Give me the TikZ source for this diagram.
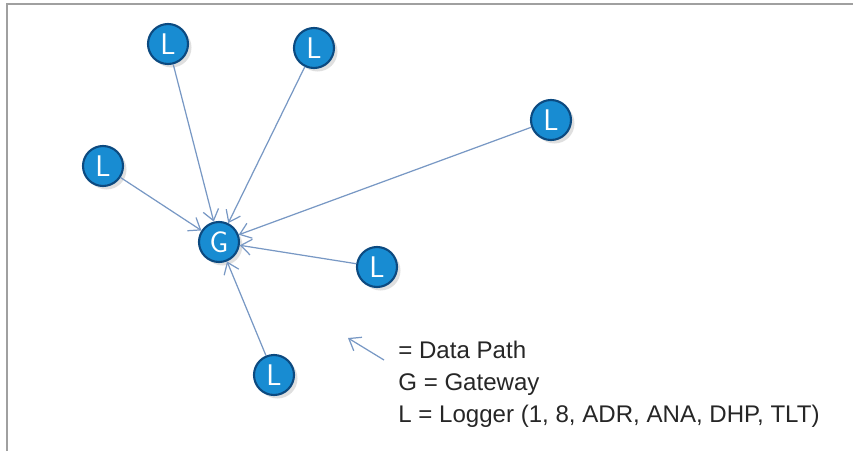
\documentclass[tikz,border=0pt]{standalone}
\usepackage{fontspec}
\setmainfont{Liberation Sans}
\usetikzlibrary{arrows.meta,shadows}
\definecolor{nodeblue}{RGB}{24,140,210}
\definecolor{rimblue}{RGB}{12,74,128}
\definecolor{pathblue}{RGB}{120,152,196}
\definecolor{framegray}{RGB}{160,160,160}
\begin{document}
\begin{tikzpicture}[
	station/.style={
		circle,
		draw=rimblue,
		line width=1.2pt,
		fill=nodeblue,
		text=white,
		font=\sffamily\fontsize{17}{17}\selectfont,
		inner sep=0pt,
		minimum size=0.8cm,
		drop shadow={shadow xshift=0.07cm,shadow yshift=-0.07cm,opacity=0.25}
	},
	datapath/.style={
		draw=pathblue,
		line width=0.7pt,
		-{Straight Barb[length=6pt,width=9pt]}
	},
	legend/.style={
		anchor=base west,
		inner sep=0pt,
		text=black!85,
		font=\fontsize{13.7}{13.7}\selectfont
	},
]
\useasboundingbox (0,0) rectangle (17.06,9.02);

% Frame
\draw[framegray,line width=1pt] (0.14,0) -- (0.14,8.94) -- (17.06,8.94);

% Gateway
\node[station] (gw) at (4.38,4.18) {G};

% Loggers
\foreach \n/\x/\y in {1/3.36/8.14, 2/6.28/8.06, 3/11.02/6.62, 4/2.06/5.70, 5/7.54/3.68, 6/5.48/1.52}
	\node[station] (log\n) at (\x,\y) {L};

% Data paths
\foreach \n in {1, ..., 6}
	\draw[datapath] (log\n) -- (gw);

% Legend
\coordinate (keytail) at (7.68,1.82);
\coordinate (keyhead) at (6.96,2.26);
\draw[datapath] (keytail) -- (keyhead);
\node[legend] (keypath) at (7.96,1.86) {= Data Path};
\node[legend] (keygw) at (7.96,1.22) {G = Gateway};
\node[legend] (keylog) at (7.96,0.58) {L = Logger (1, 8, ADR, ANA, DHP, TLT)};

\end{tikzpicture}
\end{document}
